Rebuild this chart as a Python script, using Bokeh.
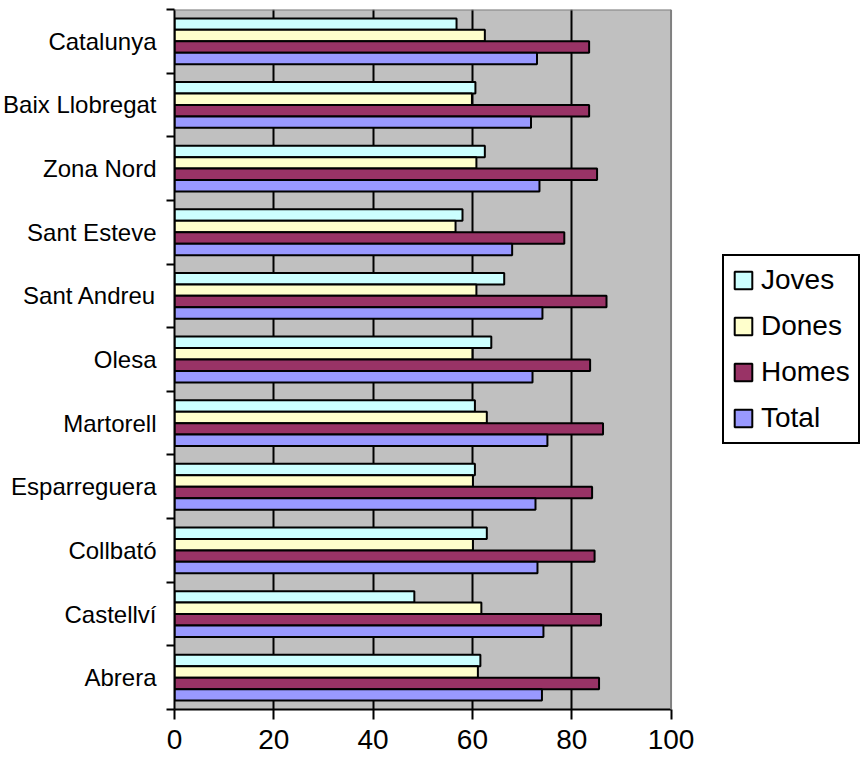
from bokeh.plotting import figure
from bokeh.models import (ColumnDataSource, FixedTicker, Range1d, Legend, LegendItem, Span,
                          BoxAnnotation)
from bokeh.transform import dodge
from bokeh.embed import file_html
from bokeh.resources import INLINE

# ---- data (top to bottom as in the chart) ----
categories = ["Catalunya", "Baix Llobregat", "Zona Nord", "Sant Esteve", "Sant Andreu",
              "Olesa", "Martorell", "Esparreguera", "Collbató", "Castellví", "Abrera"]
joves = [56.8, 60.6, 62.5, 58.0, 66.4, 63.8, 60.5, 60.5, 62.9, 48.3, 61.6]
dones = [62.5, 59.9, 60.8, 56.6, 60.8, 60.0, 62.9, 60.1, 60.1, 61.8, 61.1]
homes = [83.5, 83.5, 85.1, 78.5, 87.0, 83.7, 86.3, 84.1, 84.6, 85.9, 85.5]
total = [73.0, 71.8, 73.5, 68.0, 74.1, 72.1, 75.1, 72.7, 73.1, 74.3, 74.0]
series_names = ["Joves", "Dones", "Homes", "Total"]
x_ticks = [0, 20, 40, 60, 80, 100]
x_max = 100

colors = {"Joves": "#CCFFFF", "Dones": "#FFFFCC", "Homes": "#993366", "Total": "#9999FF"}
offsets = {"Joves": 0.27, "Dones": 0.09, "Homes": -0.09, "Total": -0.27}

n = len(categories)
centers = [n - i - 0.5 for i in range(n)]
boundaries = list(range(n + 1))

source = ColumnDataSource(dict(y=centers, Joves=joves, Dones=dones, Homes=homes, Total=total))

FONT = "Liberation Sans"

W, H = 860, 762
LEFT, TOP, BOTTOM = 172, 9, 53
PLOT_W = 498                      # pixel width of the grey plot area
frame_w = W - LEFT
x_end = x_max * frame_w / PLOT_W  # frame extends to the right to host the legend

p = figure(width=W, height=H, output_backend="svg", toolbar_location=None,
           x_range=Range1d(0, x_end), y_range=Range1d(0, n),
           min_border_left=LEFT, min_border_right=0, min_border_top=TOP, min_border_bottom=BOTTOM)

p.background_fill_color = "white"
p.border_fill_color = "white"
p.outline_line_color = None

# grey plot area
p.add_layout(BoxAnnotation(left=0, right=x_max, bottom=0, top=n, fill_color="#C0C0C0",
                           fill_alpha=1.0, line_color=None, level="image"))

renderers = {}
for s in series_names:
    renderers[s] = p.hbar(y=dodge("y", offsets[s]), right=s, left=0, height=0.18, source=source,
                          fill_color=colors[s], line_color="black", line_width=2)

# grid
p.ygrid.visible = False
p.xgrid.ticker = FixedTicker(ticks=[20, 40, 60, 80])
p.xgrid.grid_line_color = "black"
p.xgrid.grid_line_width = 2

# borders top / right of plot area
p.add_layout(Span(location=x_max, dimension="height", line_color="#808080", line_width=2))
p.add_layout(BoxAnnotation(left=0, right=x_max, bottom=n, top=n, fill_alpha=0,
                           line_color="#808080", line_width=2, line_alpha=1.0))

# x axis
p.xaxis.bounds = (0, x_max)
p.xaxis.ticker = FixedTicker(ticks=x_ticks)
p.xaxis.axis_line_color = "black"
p.xaxis.axis_line_width = 2
p.xaxis.major_tick_line_color = "black"
p.xaxis.major_tick_line_width = 2
p.xaxis.major_tick_out = 10
p.xaxis.major_tick_in = 0
p.xaxis.minor_tick_line_color = None
p.xaxis.major_label_text_font = FONT
p.xaxis.major_label_text_font_size = "28px"
p.xaxis.major_label_text_color = "black"
p.xaxis.major_label_standoff = 10

# y axis
p.yaxis.ticker = FixedTicker(ticks=centers, minor_ticks=boundaries)
p.yaxis.major_label_overrides = {c: name for c, name in zip(centers, categories)}
p.yaxis.axis_line_color = "black"
p.yaxis.axis_line_width = 2
p.yaxis.major_tick_out = 0
p.yaxis.major_tick_in = 0
p.yaxis.major_tick_line_color = None
p.yaxis.minor_tick_out = 8
p.yaxis.minor_tick_in = 0
p.yaxis.minor_tick_line_color = "black"
p.yaxis.minor_tick_line_width = 2
p.yaxis.major_label_text_font = FONT
p.yaxis.major_label_text_font_size = "24px"
p.yaxis.major_label_text_color = "black"
p.yaxis.major_label_standoff = 10

frame_h = H - TOP - BOTTOM
legend_h = 2 * 8 + 4 * 28 + 3 * 14
legend = Legend(items=[LegendItem(label=s, renderers=[renderers[s]]) for s in series_names],
                location=(548, (frame_h - legend_h) // 2))
legend.label_text_font = FONT
legend.label_text_font_size = "28px"
legend.label_text_color = "black"
legend.label_height = 28
legend.glyph_height = 22
legend.glyph_width = 22
legend.label_standoff = 7
legend.spacing = 14
legend.padding = 8
legend.margin = 0
legend.border_line_color = "black"
legend.border_line_width = 2
legend.border_line_alpha = 1.0
legend.background_fill_color = "white"
legend.background_fill_alpha = 1.0
p.add_layout(legend)

open("out.html", "w").write(file_html(p, INLINE))
